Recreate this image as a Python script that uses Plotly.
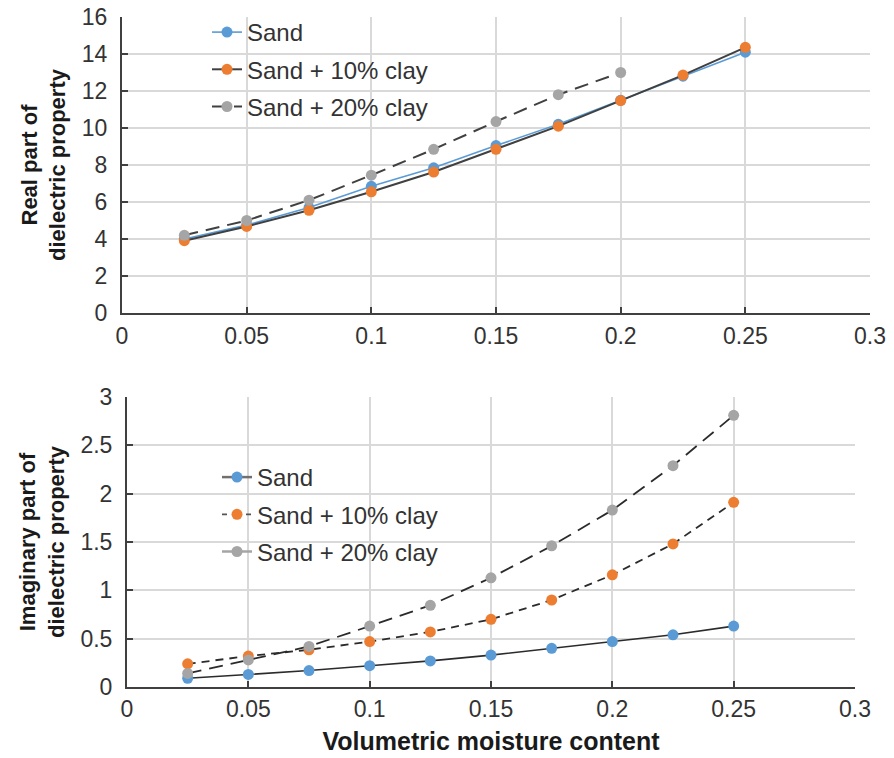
import plotly.graph_objects as go

# Volumetric moisture content (shared by both panels)
moisture = [0.025, 0.05, 0.075, 0.1, 0.125, 0.15, 0.175, 0.2, 0.225, 0.25]
moisture_20 = moisture[:8]

# Real part of the dielectric property
real_sand = [4.0, 4.75, 5.7, 6.85, 7.85, 9.05, 10.2, 11.5, 12.8, 14.1]
real_clay10 = [3.91, 4.68, 5.55, 6.55, 7.62, 8.85, 10.1, 11.48, 12.86, 14.36]
real_clay20 = [4.2, 5.0, 6.1, 7.45, 8.85, 10.35, 11.8, 13.0]

# Imaginary part of the dielectric property
imag_sand = [0.09, 0.13, 0.17, 0.22, 0.27, 0.33, 0.40, 0.47, 0.54, 0.63]
imag_clay10 = [0.24, 0.32, 0.385, 0.47, 0.57, 0.70, 0.90, 1.16, 1.48, 1.91]
imag_clay20 = [0.14, 0.28, 0.42, 0.63, 0.845, 1.13, 1.46, 1.83, 2.29, 2.81]

series_names = ["Sand", "Sand + 10% clay", "Sand + 20% clay"]

BLUE = "#5B9BD5"
ORANGE = "#ED7D31"
GRAY = "#A5A5A5"
DARK = "#404040"
FONT = "Liberation Sans, Arial, sans-serif"
MS = 11

W, H = 894, 758

fig = go.Figure()

# ---- upper panel: real part ----
fig.add_trace(go.Scatter(
    x=moisture, y=real_sand, name=series_names[0], mode="lines+markers",
    line=dict(color=BLUE, width=1.6), marker=dict(color=BLUE, size=MS),
    xaxis="x", yaxis="y", legend="legend", legendgroup="a"))
fig.add_trace(go.Scatter(
    x=moisture, y=real_clay10, name=series_names[1], mode="lines+markers",
    line=dict(color=DARK, width=2), marker=dict(color=ORANGE, size=MS),
    xaxis="x", yaxis="y", legend="legend", legendgroup="b"))
fig.add_trace(go.Scatter(
    x=moisture_20, y=real_clay20, name=series_names[2], mode="lines+markers",
    line=dict(color=DARK, width=2, dash="14px,8px"), marker=dict(color=GRAY, size=MS),
    xaxis="x", yaxis="y", legend="legend", legendgroup="c"))

# ---- lower panel: imaginary part ----
fig.add_trace(go.Scatter(
    x=moisture, y=imag_sand, mode="lines+markers", showlegend=False,
    line=dict(color="#2b2b2b", width=1.6), marker=dict(color=BLUE, size=MS),
    xaxis="x2", yaxis="y2"))
fig.add_trace(go.Scatter(
    x=moisture, y=imag_clay10, mode="lines+markers", showlegend=False,
    line=dict(color="#2b2b2b", width=1.8, dash="8px,6px"), marker=dict(color=ORANGE, size=MS),
    xaxis="x2", yaxis="y2"))
fig.add_trace(go.Scatter(
    x=moisture, y=imag_clay20, mode="lines+markers", showlegend=False,
    line=dict(color="#2b2b2b", width=1.8, dash="14px,8px"), marker=dict(color=GRAY, size=MS),
    xaxis="x2", yaxis="y2"))

# legend entries for the lower panel
legend2_styles = [
    (dict(color="#707070", width=2.5), BLUE),
    (dict(color="#555555", width=1.8, dash="5px,7px"), ORANGE),
    (dict(color=GRAY, width=2.5), GRAY),
]
for i, (ln, mc) in enumerate(legend2_styles):
    fig.add_trace(go.Scatter(
        x=[None], y=[None], name=series_names[i], mode="lines+markers",
        line=ln, marker=dict(color=mc, size=MS),
        xaxis="x2", yaxis="y2", legend="legend2", legendgroup="l2_" + str(i)))

def xpx(px):
    return px / W

def ypx(py):
    return 1 - py / H

axis_common = dict(
    showline=True, linecolor=DARK, linewidth=2,
    showgrid=True, gridcolor="#d9d9d9", gridwidth=1.5,
    zeroline=False, ticks="inside", ticklen=6, tickwidth=1.5, tickcolor=DARK,
    tickfont=dict(family=FONT, size=23, color="#333333"),
    automargin=False,
)

title_font = dict(family=FONT, size=22, color="#1a1a1a", weight="bold")
legend_font = dict(family=FONT, size=24, color="#333333")

fig.update_layout(
    width=W, height=H,
    margin=dict(l=0, r=0, t=0, b=0),
    paper_bgcolor="white", plot_bgcolor="white",
    showlegend=True,
    xaxis=dict(axis_common, domain=[xpx(122), xpx(870)], range=[0, 0.3], dtick=0.05,
               anchor="y", ticklabelstandoff=1),
    yaxis=dict(axis_common, domain=[ypx(313), ypx(17)], range=[0, 16], dtick=2,
               anchor="x", ticklabelstandoff=8,
               title=dict(text="Real part of<br>dielectric property", font=title_font,
                          standoff=10)),
    xaxis2=dict(axis_common, domain=[xpx(127), xpx(855)], range=[0, 0.3], dtick=0.05,
                anchor="y2", ticklabelstandoff=0,
                title=dict(text="Volumetric moisture content",
                           font=dict(family=FONT, size=25, color="#1a1a1a", weight="bold"),
                           standoff=12)),
    yaxis2=dict(axis_common, domain=[ypx(687), ypx(397)], range=[0, 3], dtick=0.5,
                anchor="x2", ticklabelstandoff=8,
                title=dict(text="Imaginary part of<br>dielectric property", font=title_font,
                           standoff=10)),
    legend=dict(x=xpx(207), y=ypx(10), xanchor="left", yanchor="top",
                bgcolor="rgba(0,0,0,0)", tracegroupgap=3, font=legend_font),
    legend2=dict(x=xpx(217), y=ypx(455), xanchor="left", yanchor="top",
                 bgcolor="rgba(0,0,0,0)", tracegroupgap=3, font=legend_font),
)

fig.write_html("out.html")
